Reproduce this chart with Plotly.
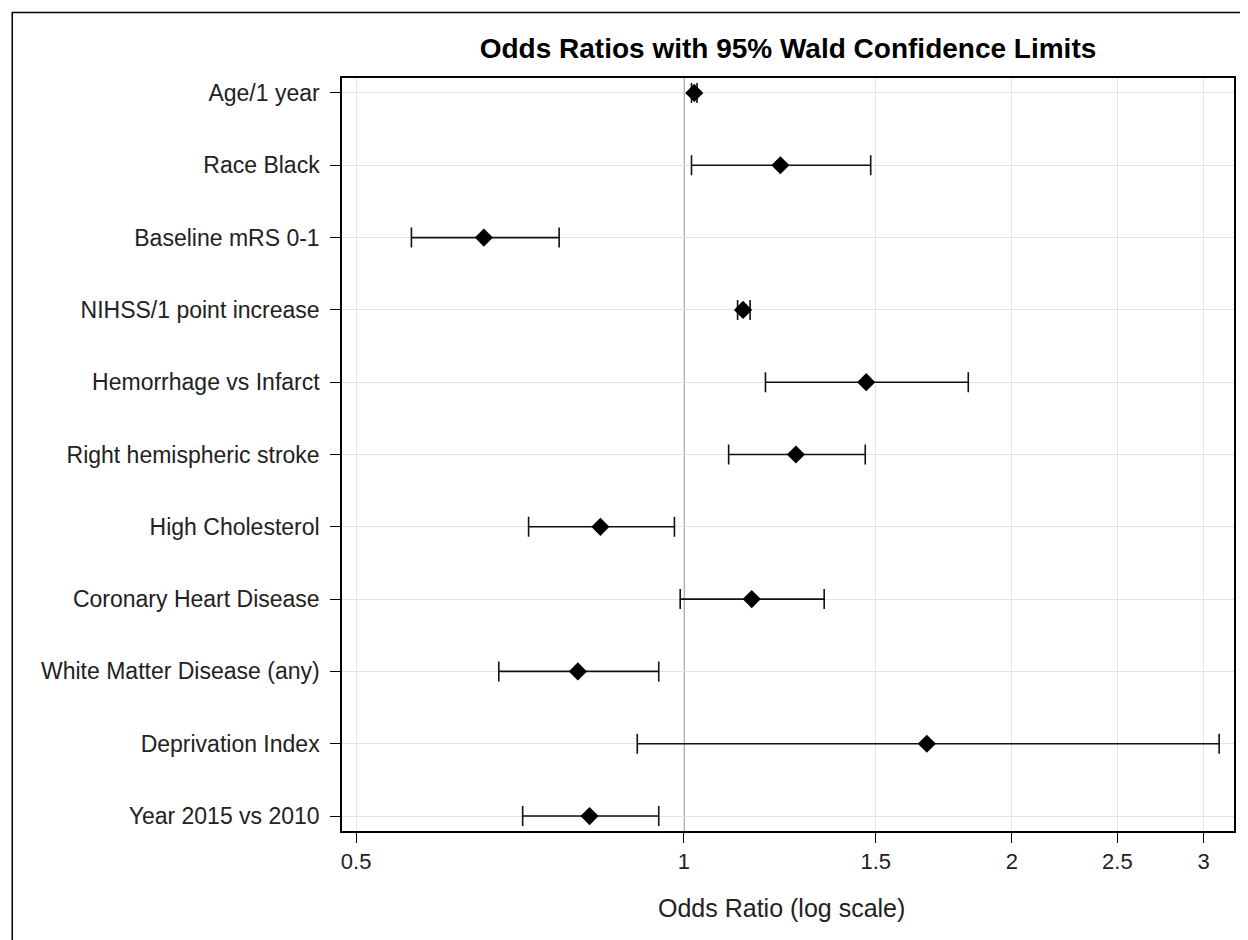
import plotly.graph_objects as go

categories = ["Age/1 year", "Race Black", "Baseline mRS 0-1", "NIHSS/1 point increase",
              "Hemorrhage vs Infarct", "Right hemispheric stroke", "High Cholesterol",
              "Coronary Heart Disease", "White Matter Disease (any)", "Deprivation Index",
              "Year 2015 vs 2010"]
odds_ratio = [1.022, 1.226, 0.655, 1.133, 1.470, 1.267, 0.838, 1.154, 0.799, 1.671, 0.819]
lower_cl = [1.016, 1.016, 0.562, 1.120, 1.188, 1.099, 0.720, 0.992, 0.676, 0.906, 0.711]
upper_cl = [1.028, 1.484, 0.768, 1.150, 1.824, 1.467, 0.980, 1.345, 0.948, 3.100, 0.948]
x_ticks = [0.5, 1, 1.5, 2, 2.5, 3]
x_tick_labels = ["0.5", "1", "1.5", "2", "2.5", "3"]

FONT = "Liberation Sans, Arial, sans-serif"
TXT = "#222222"

err_plus = [u - o for u, o in zip(upper_cl, odds_ratio)]
err_minus = [o - l for o, l in zip(odds_ratio, lower_cl)]

fig = go.Figure()
fig.add_trace(go.Scatter(
    x=odds_ratio, y=categories, mode="markers",
    marker=dict(symbol="diamond", size=14, color="black", line=dict(width=0)),
    error_x=dict(type="data", symmetric=False, array=err_plus, arrayminus=err_minus,
                 color="#111111", thickness=1.6, width=10),
    showlegend=False,
))

# the page shows the figure offset by 8px (body margin)
OFF = 8
W, H = 1248 - OFF, 940 - OFF
L, T = 342 - OFF, 78 - OFF
R = W - (1236 - OFF)
B = H - (831 - OFF)
pw, ph = W - L - R, H - T - B

fig.update_layout(
    width=W, height=H,
    margin=dict(l=L, r=R, t=T, b=B),
    paper_bgcolor="white", plot_bgcolor="white",
    font=dict(family=FONT, color=TXT, size=23),
    title=dict(text="<b>Odds Ratios with 95% Wald Confidence Limits</b>",
               x=0.5, xref="paper", xanchor="center",
               y=1 - (48 - OFF) / H, yanchor="middle",
               font=dict(family=FONT, size=28, color="black")),
    xaxis=dict(type="log", range=[-0.314, 0.505],
               tickvals=x_ticks, ticktext=x_tick_labels,
               showgrid=True, gridcolor="#e3e3e3", gridwidth=1,
               zeroline=False, showline=True, linecolor="black", linewidth=1.5,
               mirror=True, ticks="outside", ticklen=10, tickcolor="black", tickwidth=1.2,
               ticklabelstandoff=0,
               tickfont=dict(size=22, family=FONT, color=TXT)),
    yaxis=dict(type="category", categoryorder="array", categoryarray=categories,
               range=[10.207, -0.207],
               showgrid=True, gridcolor="#e3e3e3", gridwidth=1,
               zeroline=False, showline=True, linecolor="black", linewidth=1.5,
               mirror=True, ticks="outside", ticklen=10, tickcolor="black", tickwidth=1.2,
               ticklabelstandoff=6,
               tickfont=dict(size=23, family=FONT, color=TXT)),
    shapes=[
        dict(type="line", xref="x", yref="paper", x0=1, x1=1, y0=0, y1=1,
             line=dict(color="#808080", width=1.3), layer="below"),
        dict(type="rect", xref="paper", yref="paper",
             x0=(11.5 - OFF - L) / pw, x1=1.2, y0=-0.3, y1=1 + (T - (12.5 - OFF)) / ph,
             line=dict(color="black", width=1.5), fillcolor="rgba(0,0,0,0)"),
    ],
    annotations=[
        dict(text="Odds Ratio (log scale)", xref="paper", yref="paper",
             x=(782 - OFF - L) / pw, y=-(908 - 831) / ph, xanchor="center", yanchor="middle",
             showarrow=False, font=dict(size=25, family=FONT, color=TXT)),
    ],
)

fig.write_html("out.html")
